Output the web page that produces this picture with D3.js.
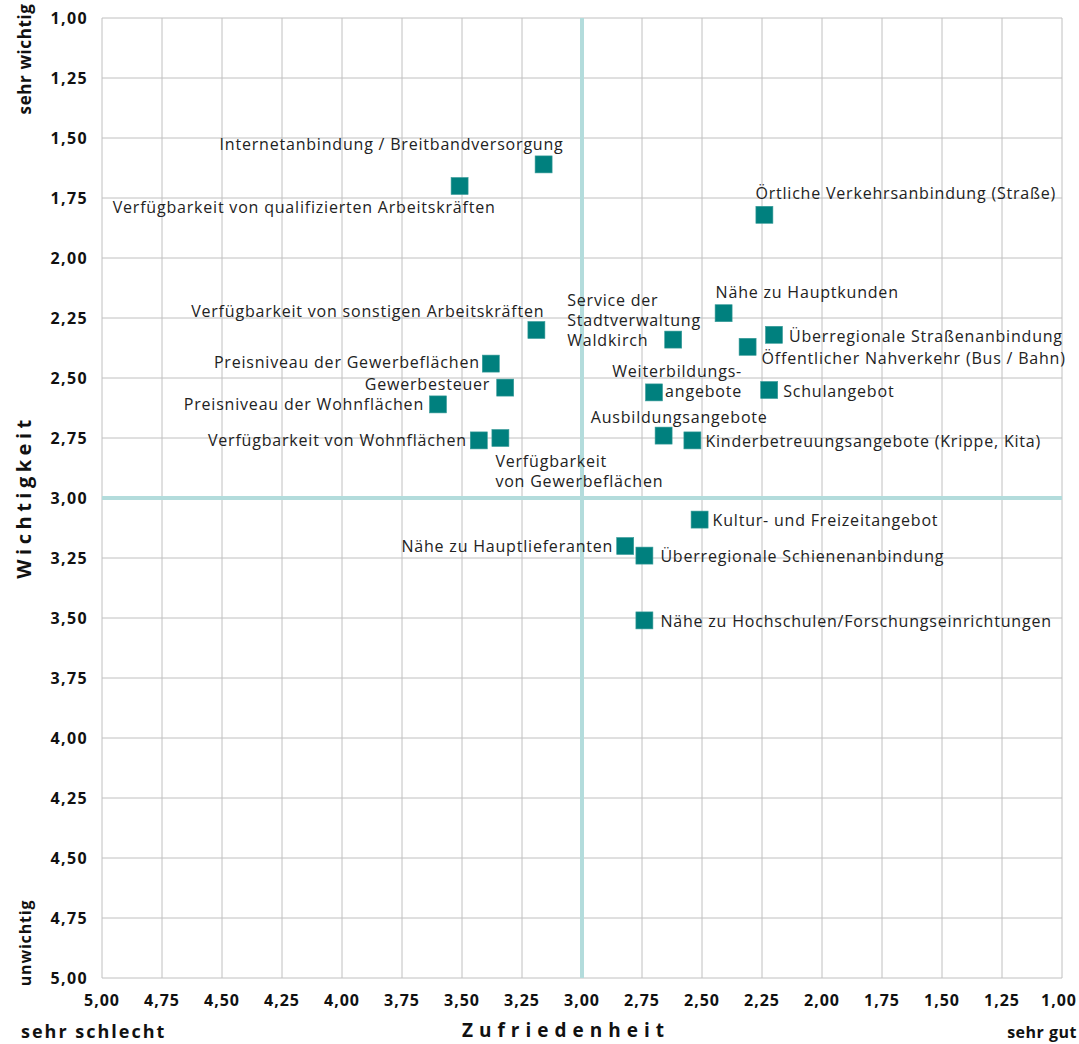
<!DOCTYPE html>
<html>
<head>
<meta charset="utf-8">
<script src="https://cdn.jsdelivr.net/npm/d3@7"></script>
<style>
  body { margin: 0; background: #fff; }
  svg { display: block; font-family: "Open Sans", sans-serif; }
</style>
</head>
<body>
<div id="chart"></div>
<script>
// Standortfaktoren: Zufriedenheit (x) vs. Wichtigkeit (y)
const labels = [
  'Internetanbindung / Breitbandversorgung',
  'Verfügbarkeit von qualifizierten Arbeitskräften',
  'Örtliche Verkehrsanbindung (Straße)',
  'Nähe zu Hauptkunden',
  'Überregionale Straßenanbindung',
  'Öffentlicher Nahverkehr (Bus / Bahn)',
  'Service der|Stadtverwaltung|Waldkirch',
  'Verfügbarkeit von sonstigen Arbeitskräften',
  'Preisniveau der Gewerbeflächen',
  'Gewerbesteuer',
  'Preisniveau der Wohnflächen',
  'Verfügbarkeit von Wohnflächen',
  'Verfügbarkeit|von Gewerbeflächen',
  'Weiterbildungs-|angebote',
  'Schulangebot',
  'Ausbildungsangebote',
  'Kinderbetreuungsangebote (Krippe, Kita)',
  'Kultur- und Freizeitangebot',
  'Nähe zu Hauptlieferanten',
  'Überregionale Schienenanbindung',
  'Nähe zu Hochschulen/Forschungseinrichtungen'
];
const zufriedenheit = [3.16, 3.51, 2.24, 2.41, 2.20, 2.31, 2.62, 3.19, 3.38, 3.32, 3.60, 3.43, 3.34,
  2.70, 2.22, 2.66, 2.54, 2.51, 2.82, 2.74, 2.74];
const wichtigkeit = [1.61, 1.70, 1.82, 2.23, 2.32, 2.37, 2.34, 2.30, 2.44, 2.54, 2.61, 2.76, 2.75,
  2.56, 2.55, 2.74, 2.76, 3.09, 3.20, 3.24, 3.51];
const ticks = [1, 1.25, 1.5, 1.75, 2, 2.25, 2.5, 2.75, 3, 3.25, 3.5, 3.75, 4, 4.25, 4.5, 4.75, 5];

// label placement relative to the marker: [anchor, dx, dy]
const placement = [
  ['end', 20, -14], ['end', 36, 27], ['start', -9, -16], ['start', -8, -15],
  ['start', 15, 7], ['start', 14, 17], ['start', -106, -34], ['end', 8, -13],
  ['end', -11, 4], ['end', -15, 2], ['end', -14, 6], ['end', -12, 6],
  ['start', -5, 29], ['end', 88, -15], ['start', 14, 7], ['end', 104, -13],
  ['start', 13, 7], ['start', 13, 6], ['end', -12, 6], ['start', 16, 6], ['start', 16, 7]
];

const width = 1079, height = 1044;
const plotLeft = 102, plotRight = 1062, plotTop = 18, plotBottom = 978;

const svg = d3.select('#chart').append('svg')
  .attr('width', width).attr('height', height);

const x = d3.scaleLinear().domain([5, 1]).range([plotLeft, plotRight]);
const y = d3.scaleLinear().domain([1, 5]).range([plotTop, plotBottom]);
const fmt = d => d3.format('.2f')(d).replace('.', ',');

// grid
svg.append('g').selectAll('line').data(ticks).enter().append('line')
  .attr('x1', d => x(d)).attr('x2', d => x(d))
  .attr('y1', plotTop).attr('y2', plotBottom)
  .attr('stroke', '#c0c0c0').attr('stroke-width', 1);
svg.append('g').selectAll('line').data(ticks).enter().append('line')
  .attr('y1', d => y(d)).attr('y2', d => y(d))
  .attr('x1', plotLeft).attr('x2', plotRight)
  .attr('stroke', '#c0c0c0').attr('stroke-width', 1);

// quadrant lines at 3,00
svg.append('line')
  .attr('x1', x(3)).attr('x2', x(3)).attr('y1', plotTop).attr('y2', plotBottom)
  .attr('stroke', '#b3dcdc').attr('stroke-width', 4);
svg.append('line')
  .attr('y1', y(3)).attr('y2', y(3)).attr('x1', plotLeft).attr('x2', plotRight)
  .attr('stroke', '#b3dcdc').attr('stroke-width', 4);

// tick labels
svg.append('g').selectAll('text').data(ticks).enter().append('text')
  .attr('x', 88).attr('y', d => y(d)).attr('dy', '0.35em')
  .attr('text-anchor', 'end')
  .style('font-size', '16px').style('font-weight', 'bold').style('letter-spacing', '1.4px')
  .attr('fill', '#111').text(fmt);
svg.append('g').selectAll('text').data(ticks).enter().append('text')
  .attr('x', d => Math.min(x(d), 1059)).attr('y', 1000).attr('dy', '0.35em')
  .attr('text-anchor', 'middle')
  .style('font-size', '16px').style('font-weight', 'bold').style('letter-spacing', '1px')
  .attr('fill', '#111').text(fmt);

// axis titles
const bold = (sel, size, ls) => sel.style('font-size', size + 'px').style('font-weight', 'bold')
  .style('letter-spacing', ls + 'px').attr('fill', '#111');
bold(svg.append('text').attr('transform', 'translate(31,497) rotate(-90)')
  .attr('text-anchor', 'middle').text('Wichtigkeit'), 20, 4.5);
bold(svg.append('text').attr('transform', 'translate(31,59) rotate(-90)')
  .attr('text-anchor', 'middle').text('sehr wichtig'), 17, 0.6);
bold(svg.append('text').attr('transform', 'translate(31,943) rotate(-90)')
  .attr('text-anchor', 'middle').text('unwichtig'), 16, 0.8);
bold(svg.append('text').attr('x', 566).attr('y', 1037)
  .attr('text-anchor', 'middle').text('Zufriedenheit'), 19, 6);
bold(svg.append('text').attr('x', 21).attr('y', 1038).text('sehr schlecht'), 18, 2);
bold(svg.append('text').attr('x', 1077).attr('y', 1038)
  .attr('text-anchor', 'end').text('sehr gut'), 16, 0.5);

// points
const pts = labels.map((l, i) => ({ label: l, x: zufriedenheit[i], y: wichtigkeit[i], p: placement[i] }));
const size = 17;
svg.append('g').selectAll('rect').data(pts).enter().append('rect')
  .attr('x', d => x(d.x) - size / 2).attr('y', d => y(d.y) - size / 2)
  .attr('width', size).attr('height', size)
  .attr('fill', '#00807e').attr('stroke', '#3a9c9a').attr('stroke-width', 0.6);

// point labels
const lab = svg.append('g').selectAll('text').data(pts).enter().append('text')
  .attr('x', d => x(d.x) + d.p[1]).attr('y', d => y(d.y) + d.p[2])
  .attr('text-anchor', d => d.p[0])
  .style('font-size', '16px').style('letter-spacing', '0.8px').attr('fill', '#222');
lab.each(function (d) {
  const el = d3.select(this);
  d.label.split('|').forEach((line, i) => {
    el.append('tspan').attr('x', x(d.x) + d.p[1]).attr('dy', i === 0 ? 0 : 20).text(line);
  });
});
</script>
</body>
</html>
